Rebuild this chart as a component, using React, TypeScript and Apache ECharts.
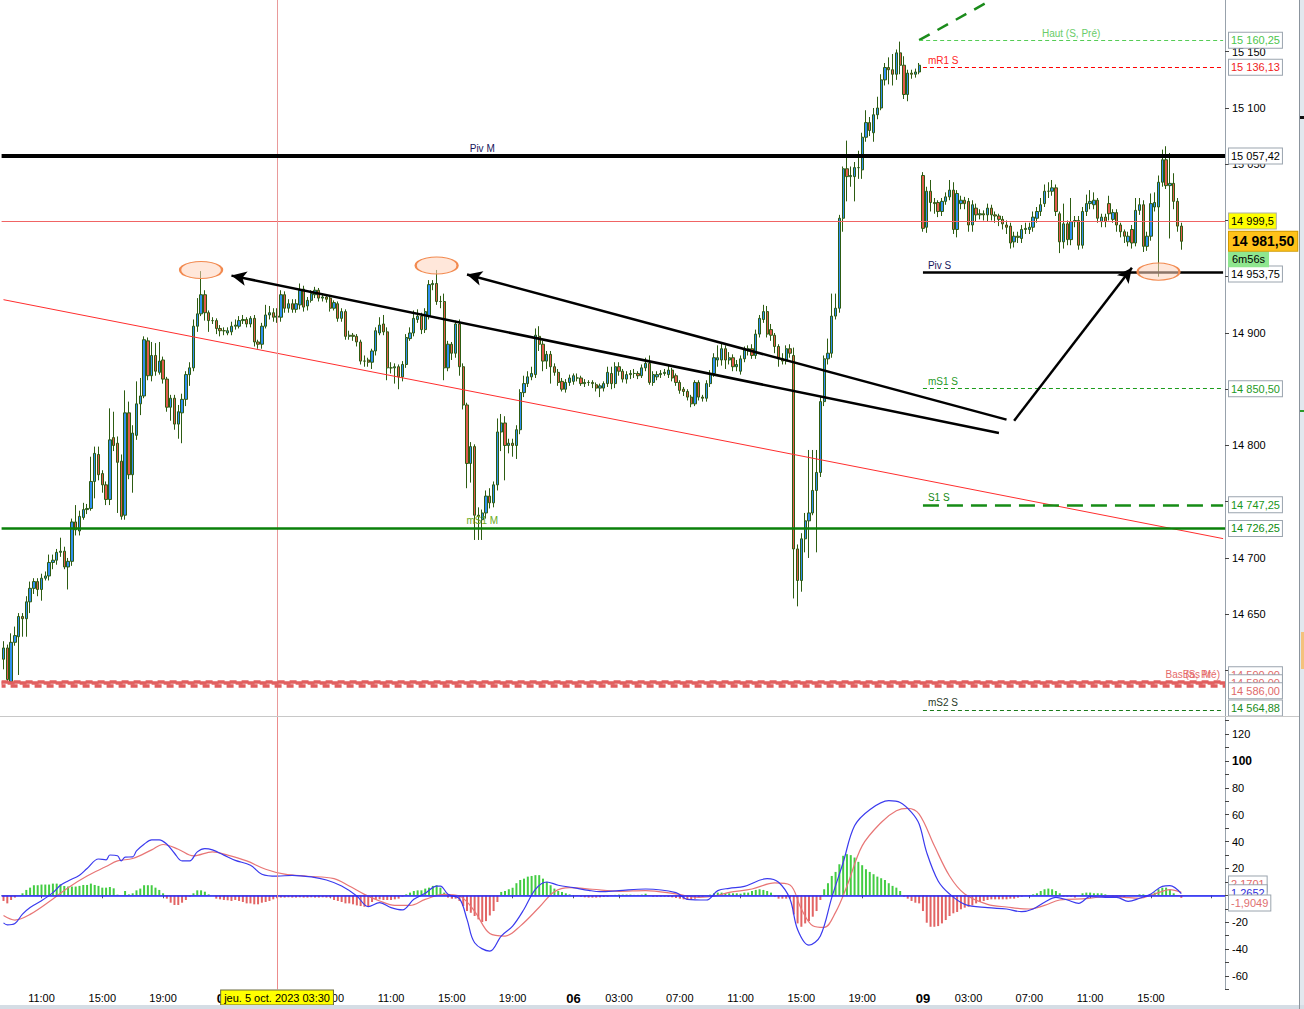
import { useEffect, useRef } from "react";
import * as echarts from "echarts";

// 15 min bars, one session per day (Wed 4, Thu 5, Fri 6, Mon 9 oct. 2023)
const sessionDays = ["04", "05", "06", "09"];
const sessionStart = ["08:30", "00:00", "00:00", "00:00"];
const sessionSlots = [58, 92, 92, 80]; // monday keeps empty slots on the right
const labelTimes = ["03:00", "07:00", "11:00", "15:00", "19:00"];

// [open, close, low, high]
const wedBars = [
  [14610, 14620, 14601, 14626], [14620, 14592, 14590, 14623], [14590, 14625, 14588, 14633], [14625, 14631, 14622, 14639],
  [14630, 14648, 14596, 14651], [14648, 14646, 14630, 14651], [14646, 14661, 14630, 14666], [14661, 14673, 14651, 14679],
  [14673, 14679, 14668, 14682], [14679, 14672, 14666, 14682], [14672, 14682, 14662, 14686], [14682, 14684, 14680, 14688],
  [14684, 14696, 14680, 14703], [14696, 14698, 14690, 14703], [14698, 14705, 14694, 14708], [14705, 14706, 14701, 14718],
  [14706, 14692, 14690, 14710], [14692, 14697, 14672, 14700], [14697, 14732, 14693, 14735], [14732, 14725, 14720, 14747],
  [14724, 14737, 14720, 14742], [14736, 14743, 14734, 14749], [14743, 14744, 14739, 14748], [14744, 14768, 14742, 14790],
  [14768, 14793, 14753, 14799], [14792, 14774, 14769, 14799], [14775, 14765, 14758, 14778], [14765, 14752, 14747, 14768],
  [14752, 14805, 14747, 14833], [14807, 14800, 14795, 14830], [14802, 14785, 14740, 14808], [14786, 14737, 14734, 14792],
  [14738, 14829, 14734, 14849], [14829, 14774, 14770, 14839], [14774, 14811, 14758, 14818], [14809, 14837, 14805, 14857],
  [14837, 14844, 14827, 14860], [14844, 14894, 14842, 14897], [14893, 14862, 14858, 14896], [14862, 14880, 14857, 14892],
  [14880, 14866, 14862, 14891], [14865, 14875, 14863, 14892], [14876, 14859, 14855, 14879], [14859, 14834, 14830, 14861],
  [14834, 14842, 14822, 14845], [14842, 14819, 14814, 14845], [14819, 14830, 14806, 14836], [14829, 14841, 14802, 14846],
  [14841, 14863, 14835, 14866], [14863, 14869, 14853, 14874], [14869, 14906, 14866, 14912], [14906, 14917, 14901, 14931],
  [14917, 14934, 14915, 14955], [14934, 14918, 14911, 14938], [14918, 14911, 14901, 14920], [14911, 14911, 14908, 14914],
  [14911, 14904, 14899, 14913], [14904, 14902, 14897, 14907],
];

const thuBars = [
  [14902, 14902, 14898, 14905], [14900, 14902, 14898, 14905], [14901, 14906, 14898, 14910], [14906, 14907, 14903, 14912],
  [14906, 14911, 14904, 14915], [14911, 14912, 14908, 14916], [14912, 14908, 14905, 14914], [14908, 14913, 14905, 14915],
  [14913, 14892, 14888, 14916], [14892, 14890, 14886, 14894], [14890, 14906, 14886, 14909], [14906, 14916, 14904, 14925],
  [14916, 14918, 14912, 14924], [14918, 14914, 14910, 14922], [14914, 14915, 14909, 14922], [14914, 14934, 14910, 14938],
  [14934, 14922, 14918, 14937], [14922, 14926, 14918, 14930], [14926, 14921, 14918, 14930], [14921, 14926, 14918, 14930],
  [14925, 14938, 14921, 14944], [14939, 14923, 14919, 14942], [14924, 14929, 14920, 14932], [14929, 14935, 14927, 14938],
  [14934, 14938, 14931, 14941], [14938, 14931, 14928, 14940], [14931, 14932, 14928, 14935], [14932, 14930, 14927, 14934],
  [14931, 14922, 14919, 14933], [14922, 14927, 14920, 14929], [14926, 14913, 14910, 14928], [14913, 14919, 14910, 14922],
  [14919, 14897, 14894, 14921], [14897, 14898, 14894, 14902], [14898, 14897, 14893, 14900], [14897, 14892, 14888, 14899],
  [14892, 14875, 14872, 14894], [14875, 14875, 14870, 14880], [14876, 14874, 14870, 14878], [14874, 14884, 14868, 14886],
  [14884, 14902, 14880, 14905], [14900, 14907, 14898, 14914], [14908, 14901, 14898, 14916], [14901, 14869, 14858, 14905],
  [14869, 14869, 14864, 14874], [14869, 14870, 14855, 14873], [14870, 14861, 14850, 14872], [14861, 14872, 14857, 14875],
  [14872, 14896, 14869, 14899], [14895, 14900, 14893, 14905], [14900, 14913, 14897, 14920], [14912, 14915, 14909, 14921],
  [14915, 14903, 14899, 14918], [14903, 14919, 14900, 14922], [14915, 14943, 14912, 14947], [14943, 14944, 14938, 14947],
  [14944, 14928, 14925, 14956], [14928, 14928, 14922, 14933], [14928, 14869, 14858, 14935], [14869, 14890, 14866, 14893],
  [14890, 14882, 14876, 14892], [14882, 14908, 14878, 14911], [14908, 14870, 14862, 14912], [14870, 14836, 14832, 14873],
  [14836, 14784, 14762, 14838], [14784, 14799, 14767, 14803], [14799, 14738, 14716, 14801], [14738, 14737, 14716, 14745],
  [14734, 14740, 14716, 14743], [14740, 14755, 14735, 14760], [14755, 14749, 14744, 14762], [14749, 14765, 14745, 14768],
  [14765, 14812, 14760, 14824], [14812, 14820, 14795, 14828], [14820, 14800, 14769, 14826], [14800, 14802, 14793, 14806],
  [14802, 14800, 14790, 14806], [14800, 14814, 14788, 14818], [14814, 14847, 14810, 14850], [14847, 14855, 14843, 14862],
  [14855, 14861, 14852, 14866], [14861, 14864, 14858, 14870], [14863, 14898, 14860, 14904], [14897, 14890, 14884, 14906],
  [14890, 14875, 14866, 14893], [14875, 14881, 14868, 14884], [14881, 14870, 14855, 14884], [14870, 14865, 14862, 14873],
  [14865, 14856, 14853, 14868], [14857, 14850, 14848, 14860], [14850, 14856, 14847, 14859], [14856, 14860, 14853, 14863],
];

const friBars = [
  [14857, 14862, 14854, 14864], [14860, 14860, 14857, 14864], [14860, 14855, 14853, 14862], [14855, 14856, 14852, 14859],
  [14856, 14856, 14853, 14858], [14856, 14855, 14851, 14858], [14854, 14851, 14848, 14856], [14851, 14853, 14843, 14855],
  [14851, 14855, 14848, 14857], [14855, 14865, 14852, 14870], [14864, 14855, 14850, 14870], [14855, 14870, 14851, 14874],
  [14870, 14866, 14862, 14874], [14866, 14859, 14856, 14868], [14859, 14863, 14855, 14866], [14863, 14864, 14859, 14867],
  [14864, 14864, 14860, 14868], [14864, 14862, 14859, 14866], [14862, 14869, 14860, 14872], [14869, 14873, 14866, 14878],
  [14873, 14856, 14854, 14880], [14856, 14863, 14853, 14866], [14861, 14863, 14858, 14866], [14863, 14864, 14860, 14867],
  [14864, 14865, 14862, 14868], [14863, 14867, 14860, 14872], [14867, 14860, 14857, 14869], [14862, 14856, 14853, 14864],
  [14856, 14849, 14846, 14858], [14850, 14848, 14844, 14852], [14848, 14843, 14840, 14850], [14843, 14837, 14834, 14845],
  [14837, 14856, 14835, 14858], [14856, 14843, 14840, 14858], [14843, 14842, 14839, 14845], [14842, 14855, 14839, 14858],
  [14855, 14864, 14852, 14867], [14864, 14878, 14861, 14882], [14876, 14878, 14870, 14889], [14876, 14886, 14871, 14892],
  [14886, 14876, 14868, 14889], [14876, 14878, 14872, 14883], [14878, 14870, 14866, 14881], [14870, 14872, 14866, 14876],
  [14866, 14877, 14863, 14880], [14877, 14885, 14874, 14888], [14884, 14886, 14880, 14889], [14886, 14880, 14877, 14890],
  [14880, 14899, 14877, 14903], [14899, 14913, 14896, 14916], [14912, 14919, 14909, 14925], [14919, 14899, 14896, 14924],
  [14903, 14898, 14893, 14908], [14898, 14888, 14882, 14900], [14888, 14877, 14870, 14890], [14877, 14875, 14872, 14882],
  [14875, 14886, 14872, 14889], [14886, 14882, 14878, 14890], [14880, 14708, 14664, 14887], [14708, 14680, 14657, 14712],
  [14680, 14717, 14670, 14722], [14717, 14733, 14705, 14740], [14733, 14740, 14700, 14796], [14740, 14760, 14738, 14796],
  [14760, 14776, 14705, 14796], [14776, 14839, 14772, 14844], [14839, 14877, 14835, 14880], [14877, 14882, 14872, 14895],
  [14882, 14915, 14878, 14935], [14915, 14922, 14912, 14935], [14922, 15002, 14918, 15005], [15002, 15046, 14990, 15048],
  [15046, 15039, 15017, 15071], [15039, 15040, 15030, 15048], [15039, 15047, 15017, 15052], [15047, 15047, 15037, 15062],
  [15045, 15074, 15037, 15078], [15074, 15087, 15070, 15098], [15087, 15080, 15075, 15092], [15078, 15094, 15070, 15100],
  [15094, 15100, 15090, 15110], [15100, 15125, 15098, 15130], [15125, 15136, 15120, 15140], [15136, 15134, 15121, 15145],
  [15134, 15130, 15120, 15148], [15130, 15149, 15125, 15152], [15149, 15138, 15130, 15159], [15138, 15112, 15108, 15146],
  [15112, 15131, 15106, 15134], [15131, 15130, 15126, 15134], [15130, 15132, 15127, 15135], [15132, 15138, 15130, 15140],
];

const monBars = [
  [15040, 14993, 14990, 15043], [14994, 15026, 14989, 15030], [15026, 15016, 15008, 15036], [15016, 15015, 15006, 15020],
  [15016, 15008, 15003, 15018], [15008, 15017, 15004, 15020], [15017, 15021, 15014, 15025], [15021, 15027, 15018, 15036],
  [15027, 14992, 14988, 15034], [14992, 15024, 14985, 15027], [15015, 15018, 15010, 15022], [15018, 15015, 15010, 15021],
  [15017, 14996, 14990, 15020], [14996, 15014, 14990, 15018], [15011, 15005, 14999, 15015], [15005, 15006, 15001, 15010],
  [15006, 15005, 15000, 15009], [15005, 15011, 14999, 15015], [15011, 15005, 15000, 15014], [15005, 15004, 14998, 15008],
  [15004, 15001, 14995, 15006], [15001, 14997, 14992, 15004], [14996, 14994, 14988, 15000], [14995, 14980, 14975, 14998],
  [14981, 14986, 14976, 14990], [14986, 14985, 14980, 14990], [14984, 14992, 14980, 14996], [14992, 14993, 14988, 14998],
  [14992, 14994, 14988, 14998], [14994, 15003, 14990, 15008], [15002, 15008, 14998, 15012], [15008, 15014, 15004, 15020],
  [15015, 15026, 15012, 15032], [15026, 15026, 15020, 15034], [15026, 15029, 15022, 15036], [15029, 15008, 15004, 15032],
  [15006, 14981, 14971, 15008], [14981, 14997, 14975, 15015], [14997, 14983, 14978, 15000], [14983, 14999, 14978, 15020],
  [14999, 15000, 14994, 15004], [15000, 14978, 14974, 15004], [14978, 15008, 14975, 15012], [15008, 15015, 15004, 15023],
  [15015, 15017, 15010, 15027], [15014, 15018, 15010, 15025], [15018, 15002, 14998, 15020], [14999, 15003, 14994, 15006],
  [15003, 14999, 14994, 15006], [15015, 15006, 15000, 15022], [15001, 15007, 14998, 15010], [15007, 14996, 14990, 15010],
  [14996, 14990, 14985, 14998], [14990, 14986, 14980, 14992], [14981, 14986, 14977, 14990], [14992, 14980, 14975, 14996],
  [14980, 15009, 14977, 15020], [15009, 15014, 15005, 15020], [15014, 14977, 14972, 15018], [14977, 14986, 14973, 14990],
  [14986, 15015, 14982, 15024], [15012, 15016, 15008, 15025], [15012, 15034, 14950, 15040], [15034, 15054, 15030, 15063],
  [15054, 15031, 15028, 15066], [15031, 15033, 14984, 15060], [15033, 15017, 15010, 15042], [15017, 14995, 14990, 15020],
  [14995, 14981.5, 14974, 14998],
];

// MACD histogram, one value per bar
const histWed = [
  -4.2, -6, -3.5, -1.7, 0, 1.5, 4, 5.7, 7.5, 7.5, 8, 8, 8, 8.7, 8.7, 8.2, 7, 6.5, 6.5, 6.5,
  7, 7.7, 7.7, 8.7, 7.7, 7, 5.7, 5.7, 6.2, 5.2, 0.5, 0, 3.2, 0.7, 1.5, 3.7, 5, 7.5, 7.5, 7.5,
  5.7, 4, 1.5, -2.5, -5.5, -7.2, -7.2, -5.5, -3.5, -1, 1.5, 3.7, 3.7, 2.7, 0.7, 0, -2.5, -3,
];
const histThu = [
  -3.5, -3.7, -4.2, -3.5, -4.2, -5, -6, -6, -6.7, -6.7, -5.5, -5, -4.2, -3, -2.2, -1.7, -1.7, -1.5, -1.7, -1.7,
  -1.5, -1.7, -1.7, -1.5, -1.7, -1.7, -1.5, -1.7, -1.7, -3.5, -4.2, -5, -6, -6, -6.7, -7.5, -8, -8.5, -8, -5,
  -3, -3, -3.5, -3.5, -3.5, -3, -2.5, -1, 0.7, 2, 3.2, 3.7, 3.7, 5, 5.7, 7, 7.5, 5.7, 2, -1.7,
  -2.5, -2.5, -4.2, -8, -11.7, -13, -15.4, -17.9, -19.9, -19.2, -15, -11.7, -5, 2.5, 3.2, 4.5, 5.7, 9, 11.4, 12.4,
  13.9, 14.4, 15, 15, 12.4, 10, 7.5, 5, 3.2, 2.5, 1.5, 0.7,
];
const histFri = [
  0, -0.5, -1, -1.5, -1.7, -1.7, -1.7, -1.5, -1.2, -1, -0.5, 0.3, 0.5, 0.5, 0.5, 0.5, 0.3, 0.3, 0.5, 1.2,
  -0.5, -1, -1, -1, -1, -1.2, -1.5, -2, -2.5, -3, -3.5, -3, -2.5, -1.7, -1, 0, 0.5, 1.5, 2, 2,
  1.5, 1.5, 1.5, 1.5, 1.2, 2, 2, 3.2, 4, 4.5, 4, 3.2, 2, -1, -2.5, -2.5, -2.5, -2.5, -14.2, -20.9,
  -23.4, -20.9, -19.2, -15.9, -11.7, -3.5, 4.5, 9, 14.4, 17.4, 23.1, 29.4, 30.6, 29.9, 28.1, 24.9, 22.4, 19.4, 17.4, 15.7,
  13.9, 12.7, 11.4, 9, 7, 5.7, 3.2, -1, -2.5, -4.2, -5.5, -6,
];
const histMon = [
  -11.7, -20.4, -23.4, -23.4, -22.9, -20.9, -18.4, -15.4, -13.4, -12.4, -10.4, -9.2, -8.5, -7.5, -6, -5, -4.2, -3.5, -3, -3,
  -3, -3, -3, -2.5, -2.5, -1.7, -1, -0.5, 0, 0.7, 1.5, 3.2, 4.5, 5, 4.5, 3.2, 1.5, -1, -1, -1,
  -1.7, 0, 1.5, 2, 2, 1.5, 1.5, 1.5, 0.7, 0, -1, -1, -1.7, -1.7, 0, 0, 0, 0.7, 0.7, -1,
  0.7, 2, 4.5, 5.7, 5.7, 4.5, 1.5, -0.5, -1.9049,
];

// MACD and signal lines read at [bar index, value]
const macdPoints = [
  [0, -20.5], [1, -22], [3, -21], [5, -14], [7, -9], [10, -4], [13, 2], [15, 7.5], [17, 10.7], [20, 15],
  [22, 20], [25, 27], [27, 26.4], [28, 30], [30, 29.4], [31, 25.6], [32, 28.4], [34, 28.6], [35, 33], [37, 38],
  [39, 41.3], [41, 41.3], [43, 38], [45, 31.3], [47, 25.6], [49, 25.6], [51, 32.3], [53, 34.8], [55, 33.8], [58, 29.9],
  [61, 26], [65, 22.4], [68, 15.7], [72, 14.2], [76, 14.9], [81, 13.7], [85, 11.4], [89, 6.9], [93, -0.5], [96, -8.4],
  [99, -5.5], [102, -9.2], [105, -10.9], [108, -3], [111, 1.5], [114, 6.9], [115, 6.9], [117, 0.7], [120, -2.5], [122, -17.9],
  [124, -35.3], [128, -41.5], [131, -30.3], [134, -22.9], [137, -10.4], [140, 4.5], [143, 9.9], [146, 7.5], [150, 5.7], [154, 3.7],
  [157, 2.7], [162, 3.5], [169, 4.7], [177, 2], [180, -3], [185, -3.5], [188, 3.5], [191, 5.2], [195, 6.7], [201, 12.4],
  [204, 9.7], [207, -2.7], [209, -25.4], [212, -37.1], [215, -30.3], [218, -1.7], [221, 24.4], [224, 51.7], [228, 63.7], [233, 70.4],
  [236, 69.1], [239, 61.7], [241, 53], [243, 31.8], [246, 10.7], [249, 1], [253, -6.7], [259, -9.2], [264, -10.2], [268, -12.2],
  [271, -10.2], [274, -5.2], [277, -1.5], [280, -3.5], [283, -6], [286, -1], [290, -1.5], [293, -1.5], [296, -4.5], [299, -2.2],
  [302, 1], [305, 6.7], [307, 7.2], [310, 1.2652],
];
const signalPoints = [
  [0, -15], [3, -18.4], [7, -14.2], [13, -2.7], [17, 5.7], [22, 14.4], [27, 21.4], [30, 25.6], [34, 27.4], [39, 33.8],
  [42, 37.8], [46, 34.3], [50, 29.3], [55, 32.3], [59, 29.9], [64, 25.6], [69, 19.4], [74, 15.7], [80, 14.2], [87, 12.4],
  [91, 6.9], [95, 0.7], [99, -4.2], [103, -7.5], [107, -7.5], [111, -3], [116, 0.7], [120, -0.5], [124, -11.9], [128, -28.4],
  [132, -30.3], [136, -22.9], [141, -8.9], [145, 2.7], [149, 5.7], [155, 4.5], [162, 3], [169, 3.5], [177, 1], [183, -1.5],
  [187, -0.7], [191, 2.2], [197, 4.7], [203, 9.2], [207, 7.7], [210, -10.2], [213, -22.6], [216, -23.9], [219, -12.7], [222, 6.9],
  [226, 36.8], [231, 54.2], [235, 62.9], [238, 64.7], [241, 60.4], [245, 36.8], [249, 14.4], [253, 1], [259, -6.7], [264, -8.7],
  [270, -10.2], [274, -7.5], [278, -3.5], [285, -2.5], [291, -0.7], [295, -1.5], [299, -2.2], [303, 1], [307, 4.2], [310, 2.1701],
];

// pivot / support / resistance levels
const levelNames = ["Haut (S, Pré)", "mR1 S", "Piv M", "Piv S", "mS1 S", "S1 S", "mS1 M", "Bas (S, Pré)", "Bas M", "Bas (J, Pré)", "mS2 S"];
const levelValues = [15160.25, 15136.13, 15057.42, 14953.75, 14850.5, 14747.25, 14726.25, 14590.0, 14589.0, 14586.0, 14564.88];
const levelScope = ["week", "week", "all", "week", "week", "week", "all", "all", "all", "all", "week"];

const lastPrice = 14981.5;
const refPrice = 14999.5;
const barCountdown = "6m56s";
const crossTime = "05|03:30";
const crossText = "jeu. 5 oct. 2023 03:30";
const macdLast = 1.2652;
const signalLast = 2.1701;
const histLast = -1.9049;

// hand drawn annotations, [bar index, price]
const arrowLines = [
  [[60, 14951], [262, 14811]],
  [[122, 14952], [264, 14823]],
  [[266, 14822], [297, 14958]],
];
const arrowHeadAtStart = [true, true, false];
const markedHighs = [[52, 14956], [114, 14960], [304, 14954.5]];
const redTrend = [[0, 14929.6], [321, 14717.2]];
const greenTrend = [[241, 15160.25], [260, 15196]];

const FONT = "Arial, 'Liberation Sans', Helvetica, sans-serif";
const PRICE_MIN = 14550;
const PRICE_MAX = 15196;
const MAIN_H = 726.7;
const MACD_MIN = -70;
const MACD_MAX = 133.4;
const MACD_TOP = 716;
const MACD_H = 273.4;

const levelLook: Record<string, any> = {
  "Haut (S, Pré)": { line: { color: "#55cc55", width: 1, type: [4, 3] }, text: "#69cc69", pos: "insideMiddleTop", box: "#4cc64c", shift: -1 },
  "mR1 S": { line: { color: "#ff0000", width: 1.2, type: [4, 3] }, text: "#ff2424", pos: "insideStartTop", box: "#f01c1c" },
  "Piv M": { line: { color: "#000", width: 4, type: "solid" }, text: "#16165c", pos: "mark", box: "#000" },
  "Piv S": { line: { color: "#000", width: 2.5, type: "solid" }, text: "#16165c", pos: "insideStartTop", box: "#000" },
  "mS1 S": { line: { color: "#1c9c1c", width: 1, type: [4, 3] }, text: "#1f9a1f", pos: "insideStartTop", box: "#1f9a1f" },
  "S1 S": { line: { color: "#168c16", width: 2.5, type: [16, 8] }, text: "#128a12", pos: "insideStartTop", box: "#1a961a" },
  "mS1 M": { line: { color: "#0a800a", width: 2.5, type: "solid" }, text: "#6aaa22", pos: "mark", box: "#0c8c0c" },
  "Bas (S, Pré)": { line: { color: "#e15f5f", width: 3.5, type: [7, 5] }, text: "#e56a6a", pos: "insideEndTop", box: "#e06a6a" },
  "Bas M": { line: { color: "#e15f5f", width: 3.5, type: [7, 5], dashOffset: 6 }, text: "#e56a6a", pos: "insideEndTopFar", box: "#e06a6a" },
  "Bas (J, Pré)": { line: { color: "#e15f5f", width: 3.5, type: [7, 5], dashOffset: 3 }, text: "#e56a6a", pos: "none", box: "#e06a6a" },
  "mS2 S": { line: { color: "#1a7a1a", width: 1, type: [4, 3] }, text: "#2a3a2a", pos: "insideStartTop", box: "#1a8c1a" },
};

// pixel shifts of stacked value boxes (reference draws them pushed apart)
const boxShift: Record<string, number> = { "Bas (S, Pré)": -7, "Bas M": 0, "Bas (J, Pré)": 4.5, "mS2 S": -2, "Piv S": 1.5 };

function buildCategories() {
  const out: string[] = [];
  sessionDays.forEach((d, s) => {
    let [h, m] = sessionStart[s].split(":").map(Number);
    for (let k = 0; k < sessionSlots[s]; k++) {
      out.push(`${d}|${String(h).padStart(2, "0")}:${String(m).padStart(2, "0")}`);
      m += 15;
      if (m === 60) {
        m = 0;
        h += 1;
      }
    }
  });
  return out;
}

function thousands(v: number) {
  return `${Math.floor(v / 1000)} ${String(Math.round(v % 1000)).padStart(3, "0")}`;
}

function priceText(v: number, dec = 2) {
  const [i, d] = v.toFixed(dec).split(".");
  return `${thousands(Number(i))},${d}`;
}

function macdText(v: number) {
  return v.toFixed(4).replace(".", ",");
}

function isTickTime(v: string) {
  const t = v.split("|")[1];
  return t === "00:00" || labelTimes.includes(t);
}

function buildOption() {
  const cats = buildCategories();
  const candles = [...wedBars, ...thuBars, ...friBars, ...monBars];
  const hist = [...histWed, ...histThu, ...histFri, ...histMon];
  const MON = sessionSlots[0] + sessionSlots[1] + sessionSlots[2];
  const LAST = cats.length - 1;
  const lastBar = candles.length - 1;
  const crossIdx = cats.indexOf(crossTime);
  const ptPerPx = (PRICE_MAX - PRICE_MIN) / MAIN_H;
  const macdPerPx = (MACD_MAX - MACD_MIN) / MACD_H;

  const boxLabel = (text: string, color: string, extra: any = {}) => ({
    show: true,
    position: "end",
    distance: 4,
    formatter: text,
    color,
    backgroundColor: "#fff",
    borderColor: "#9aa4ae",
    borderWidth: 1,
    padding: [2, 2, 2, 2],
    fontSize: 11,
    fontFamily: FONT,
    ...extra,
  });
  const hidden = { width: 1, color: "rgba(255,255,255,0)", type: "solid" };

  const lines: any[] = [];
  const boxes: any[] = [];
  const boxAt: number[] = [];

  lines.push({ yAxis: refPrice, lineStyle: { color: "#f06464", width: 1, type: "solid" }, label: { show: false } });
  lines.push([
    { coord: redTrend[0], lineStyle: { color: "#ff2e2e", width: 1, type: "solid" }, label: { show: false } },
    { coord: redTrend[1] },
  ]);
  lines.push([
    { coord: greenTrend[0], lineStyle: { color: "#1b8b1b", width: 2.5, type: [12, 9] }, label: { show: false } },
    { coord: greenTrend[1] },
  ]);
  lines.push({ xAxis: crossTime, lineStyle: { color: "#e99a9a", width: 1, type: "solid" }, label: { show: false } });

  levelNames.forEach((name, k) => {
    const v = levelValues[k];
    const look = levelLook[name];
    let label: any = { show: false };
    if (look.pos !== "none" && look.pos !== "mark") {
      const far = look.pos === "insideEndTopFar";
      label = {
        show: true,
        position: far ? "insideEndTop" : look.pos,
        formatter: name,
        color: look.text,
        fontSize: 10,
        fontFamily: FONT,
        distance: look.pos === "insideMiddleTop" ? [0, 2] : far ? [14, 3] : [5, 2],
      };
    }
    if (levelScope[k] === "week") {
      lines.push([{ coord: [MON + (look.shift || 0), v], lineStyle: look.line, label }, { coord: [LAST, v] }]);
    } else {
      lines.push({ yAxis: v, lineStyle: look.line, label });
    }
    const shown = v - (boxShift[name] || 0) * ptPerPx;
    boxAt.push(shown);
    boxes.push({ yAxis: shown, lineStyle: hidden, label: boxLabel(priceText(v), look.box) });
  });

  boxAt.push(refPrice, lastPrice, lastPrice - 18 * ptPerPx);
  boxes.push({
    yAxis: refPrice,
    lineStyle: hidden,
    label: boxLabel(priceText(refPrice, 1), "#000", { backgroundColor: "#ffff00", borderColor: "#b0b0a0" }),
  });
  boxes.push({
    yAxis: lastPrice - 18 * ptPerPx,
    lineStyle: hidden,
    label: boxLabel(barCountdown, "#000", { backgroundColor: "#8fe68f", borderColor: "#8fe68f", padding: [2, 3, 1, 3] }),
  });
  boxes.push({
    yAxis: lastPrice,
    lineStyle: hidden,
    label: boxLabel(priceText(lastPrice), "#000", {
      backgroundColor: "#ffc21a",
      borderColor: "#d19a00",
      fontSize: 14,
      fontWeight: "bold",
      padding: [3, 3, 2, 3],
    }),
  });

  arrowLines.forEach((seg, k) => {
    const head = { symbol: "arrow", symbolSize: [11, 15] };
    const tail = { symbol: "none" };
    lines.push([
      { coord: seg[0], ...(arrowHeadAtStart[k] ? head : tail), lineStyle: { color: "#000", width: 2.5, type: "solid" }, label: { show: false } },
      { coord: seg[1], ...(arrowHeadAtStart[k] ? tail : head) },
    ]);
  });

  const points: any[] = markedHighs.map((c) => ({
    coord: c,
    symbol: "circle",
    symbolSize: [42, 17],
    itemStyle: { color: "rgba(255,212,188,0.55)", borderColor: "#f28a50", borderWidth: 1.5 },
    label: { show: false },
  }));
  levelNames.forEach((name, k) => {
    if (levelLook[name].pos !== "mark") return;
    points.push({
      coord: [126, levelValues[k]],
      symbol: "rect",
      symbolSize: 1,
      itemStyle: { color: "transparent" },
      label: { show: true, position: "top", distance: 2, formatter: name, color: levelLook[name].text, fontSize: 10, fontFamily: FONT },
    });
  });

  const macdLines: any[] = [
    { yAxis: 0, lineStyle: { color: "#2424ff", width: 1.5, type: "solid" }, label: { show: false } },
    {
      xAxis: crossTime,
      lineStyle: { color: "#ec8c8c", width: 1, type: "solid" },
      label: {
        show: true,
        position: "start",
        distance: 1,
        formatter: crossText,
        color: "#000",
        backgroundColor: "#ffff00",
        borderColor: "#6a6a40",
        borderWidth: 1,
        padding: [2, 3, 1, 3],
        fontSize: 11,
        fontFamily: FONT,
      },
    },
    { yAxis: signalLast + 8.4 * macdPerPx, lineStyle: hidden, label: boxLabel(macdText(signalLast), "#e06a6a") },
    { yAxis: macdLast + 0.9 * macdPerPx, lineStyle: hidden, label: boxLabel(macdText(macdLast), "#2e2ed8") },
    { yAxis: histLast - 5.1 * macdPerPx, lineStyle: hidden, label: boxLabel(macdText(histLast), "#e07070") },
  ];

  const axisGray = "#98a2ac";
  // axis labels that sit completely under a value box are not visible in the reference
  const underBox = (v: number) => boxAt.some((b) => Math.abs(b - v) < 6 * ptPerPx);

  return {
    animation: false,
    backgroundColor: "#ffffff",
    textStyle: { fontFamily: FONT },
    grid: [
      { left: 1.6, right: 79, top: 0, height: MAIN_H },
      { left: 1.6, right: 79, top: MACD_TOP, height: MACD_H },
    ],
    xAxis: [
      {
        type: "category",
        gridIndex: 0,
        data: cats,
        boundaryGap: true,
        axisLine: { show: false },
        axisTick: { show: false },
        axisLabel: { show: false },
        splitLine: { show: false },
      },
      {
        type: "category",
        gridIndex: 1,
        data: cats,
        boundaryGap: true,
        axisLine: { show: true, lineStyle: { color: axisGray } },
        axisTick: {
          show: true,
          alignWithLabel: true,
          length: 3,
          interval: (_i: number, v: string) => isTickTime(v),
          lineStyle: { color: "#555" },
        },
        axisLabel: {
          // the label under the date box is hidden in the reference
          interval: (i: number, v: string) => i <= lastBar && Math.abs(i - crossIdx) >= 14 && isTickTime(v),
          formatter: (v: string) => {
            const [d, t] = v.split("|");
            return t === "00:00" ? `{d|${d}}` : t;
          },
          rich: { d: { fontWeight: "bold", fontSize: 13, fontFamily: FONT, color: "#000" } },
          color: "#000",
          fontSize: 11,
          fontFamily: FONT,
          margin: 3,
        },
        splitLine: { show: false },
      },
    ],
    yAxis: [
      {
        type: "value",
        gridIndex: 0,
        position: "right",
        min: PRICE_MIN,
        max: PRICE_MAX,
        interval: 50,
        axisLine: { show: true, lineStyle: { color: axisGray } },
        axisTick: { show: true, length: 4, lineStyle: { color: "#444" } },
        axisLabel: {
          showMinLabel: false,
          showMaxLabel: false,
          formatter: (v: number) => (v % 50 === 0 && v >= 14600 && v <= 15150 && !underBox(v) ? thousands(v) : ""),
          color: "#000",
          fontSize: 11,
          fontFamily: FONT,
          margin: 7,
        },
        splitLine: { show: false },
      },
      {
        type: "value",
        gridIndex: 1,
        position: "right",
        min: MACD_MIN,
        max: MACD_MAX,
        interval: 10,
        axisLine: { show: true, lineStyle: { color: axisGray } },
        axisTick: { show: true, length: 4, lineStyle: { color: "#444" } },
        axisLabel: {
          showMaxLabel: false,
          formatter: (v: number) => {
            const r = Math.round(v);
            if (r % 20 !== 0 || r === 0 || r < -60 || r > 120) return "";
            return r === 100 ? "{b|100}" : String(r);
          },
          rich: { b: { fontWeight: "bold", fontSize: 12, fontFamily: FONT, color: "#000" } },
          color: "#000",
          fontSize: 11,
          fontFamily: FONT,
          margin: 7,
        },
        splitLine: { show: false },
      },
    ],
    series: [
      {
        type: "candlestick",
        name: "FDAX",
        xAxisIndex: 0,
        yAxisIndex: 0,
        data: candles,
        barWidth: 2.8,
        itemStyle: {
          color: "#2f8ff0",
          color0: "#e25a4c",
          borderColor: "#2d5c12",
          borderColor0: "#2d5c12",
          borderColorDoji: "#2d5c12",
          borderWidth: 1,
        },
        emphasis: { disabled: true },
        markLine: { silent: true, animation: false, symbol: ["none", "none"], data: [...lines, ...boxes] },
        markPoint: { silent: true, animation: false, data: points },
      },
      {
        type: "bar",
        name: "hist",
        xAxisIndex: 1,
        yAxisIndex: 1,
        data: hist,
        barWidth: 2,
        itemStyle: { color: (p: any) => (p.value >= 0 ? "#43cc43" : "#e26464") },
        emphasis: { disabled: true },
        markLine: { silent: true, animation: false, symbol: ["none", "none"], data: macdLines },
      },
      {
        type: "line",
        name: "MACD",
        xAxisIndex: 1,
        yAxisIndex: 1,
        data: macdPoints,
        smooth: 0.35,
        showSymbol: false,
        symbol: "none",
        lineStyle: { color: "#3a3aee", width: 1.2 },
        emphasis: { disabled: true },
        z: 4,
      },
      {
        type: "line",
        name: "Signal",
        xAxisIndex: 1,
        yAxisIndex: 1,
        data: signalPoints,
        smooth: 0.35,
        showSymbol: false,
        symbol: "none",
        lineStyle: { color: "#e87676", width: 1.2 },
        emphasis: { disabled: true },
        z: 3,
      },
    ],
    graphic: [
      { type: "line", shape: { x1: 0, y1: 716.5, x2: 1299, y2: 716.5 }, style: { stroke: "#c8c8c8", lineWidth: 1 }, z: 50, silent: true },
      { type: "rect", shape: { x: 1299, y: 0, width: 5, height: 1009 }, style: { fill: "#e2e8ee" }, z: 50, silent: true },
      { type: "line", shape: { x1: 1299.5, y1: 0, x2: 1299.5, y2: 1009 }, style: { stroke: "#8b949d", lineWidth: 1 }, z: 51, silent: true },
      { type: "rect", shape: { x: 1300, y: 116, width: 4, height: 3 }, style: { fill: "#111" }, z: 52, silent: true },
      { type: "rect", shape: { x: 1300, y: 410, width: 4, height: 2 }, style: { fill: "#2a9a2a" }, z: 52, silent: true },
      { type: "rect", shape: { x: 1301, y: 632, width: 3, height: 37 }, style: { fill: "#f4c27c" }, z: 52, silent: true },
      { type: "rect", shape: { x: 0, y: 1005, width: 1304, height: 4 }, style: { fill: "#d5dde5" }, z: 50, silent: true },
    ],
  };
}

export default function App() {
  const chartRef = useRef<HTMLDivElement | null>(null);

  useEffect(() => {
    document.body.style.margin = "0";
    if (!chartRef.current) return;
    const chart = echarts.init(chartRef.current, undefined, { renderer: "svg" });
    chart.setOption(buildOption() as any);
    return () => {
      chart.dispose();
    };
  }, []);

  return <div ref={chartRef} style={{ width: 1304, height: 1009 }} />;
}
